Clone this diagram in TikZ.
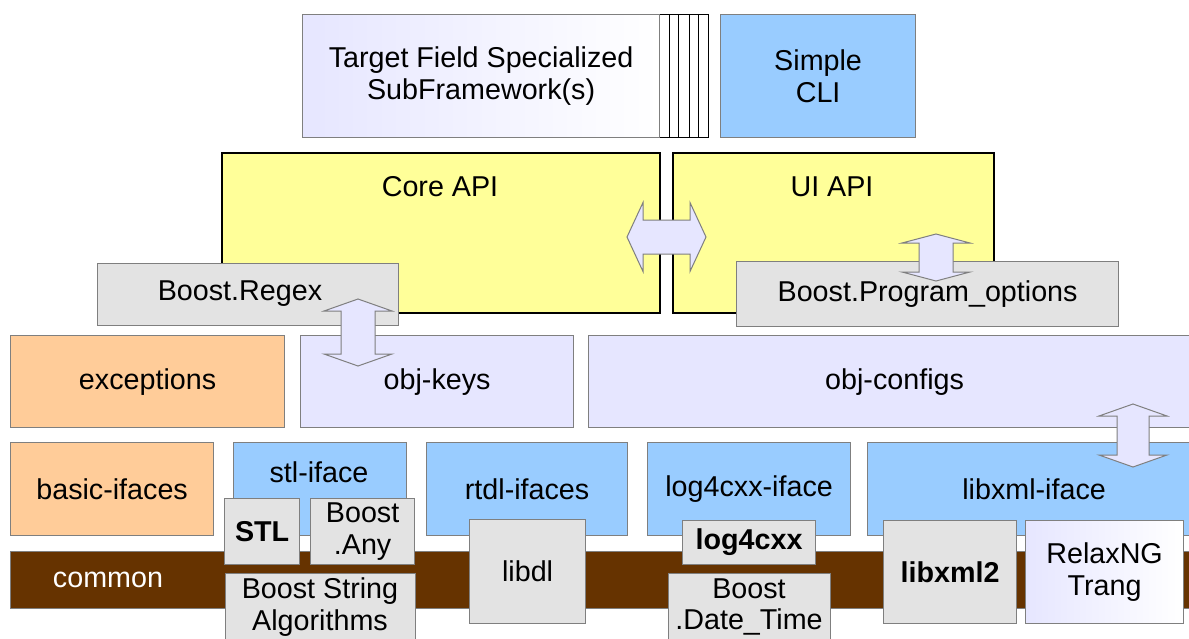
\documentclass[tikz,border=0pt]{standalone}
\usepackage{fontspec}
\setmainfont{Liberation Sans}
\definecolor{lav}{HTML}{E6E6FF}
\definecolor{sky}{HTML}{99CCFF}
\definecolor{yel}{HTML}{FFFF99}
\definecolor{lgray}{HTML}{E3E3E3}
\definecolor{peach}{HTML}{FFCC99}
\definecolor{dbrown}{HTML}{663300}
\definecolor{edge}{HTML}{7F7F7F}
\tikzset{
  base/.style={draw=edge, line width=1.2pt, inner sep=0pt, anchor=north west},
  txt/.style={font=\fontsize{28.7}{31.5}\selectfont, align=center, inner sep=0pt},
  lavbox/.style={base, fill=lav},
  skybox/.style={base, fill=sky},
  yelbox/.style={base, draw=black, line width=2pt, fill=yel},
  graybox/.style={base, fill=lgray},
  peachbox/.style={base, fill=peach},
  brownbox/.style={base, fill=dbrown},
  gradbox/.style={base, left color=lav, right color=white},
  stripbox/.style={draw=black, line width=0.8pt, fill=white},
  blockarrow/.style={draw=edge, line width=1pt, fill=lav, line join=miter},
}
% style, name, x1, y1, x2, y2, text
\newcommand{\blk}[7]{\node[#1, txt, minimum width={#5-#3}, minimum height={#6-#4}] (#2) at (#3,#4) {#7};}
% vertical double block arrow: cx, cy, half length, head length, head half width, shaft half width
\newcommand{\vdbl}[6]{\draw[blockarrow, shift={(#1,#2)}] (0,-#3) -- (#5,-#3+#4) -- (#6,-#3+#4) -- (#6,#3-#4) -- (#5,#3-#4) -- (0,#3) -- (-#5,#3-#4) -- (-#6,#3-#4) -- (-#6,-#3+#4) -- (-#5,-#3+#4) -- cycle;}
\newcommand{\hdbl}[6]{\draw[blockarrow, shift={(#1,#2)}] (-#3,0) -- (-#3+#4,#5) -- (-#3+#4,#6) -- (#3-#4,#6) -- (#3-#4,#5) -- (#3,0) -- (#3-#4,-#5) -- (#3-#4,-#6) -- (-#3+#4,-#6) -- (-#3+#4,-#5) -- cycle;}
\begin{document}
\begin{tikzpicture}[x=1pt,y=-1pt]
\useasboundingbox[fill=white] (0,0) rectangle (1189,638);
% top row
\draw[stripbox] (302,14) rectangle (708,137);
\draw[stripbox] (302,14) rectangle (698,137);
\draw[stripbox] (302,14) rectangle (689,137);
\draw[stripbox] (302,14) rectangle (678,137);
\draw[stripbox] (302,14) rectangle (669,137);
\blk{gradbox}{tfs}{302}{14}{659}{137}{Target Field Specialized\\SubFramework(s)}
\blk{skybox}{cli}{720}{14}{915}{137}{Simple\\CLI}
% API row
\blk{yelbox}{core}{221}{152}{659}{312}{}
\blk{yelbox}{ui}{672}{152}{993}{312}{}
\node[txt] (corelbl) at (440,187) {Core API};
\node[txt] (uilbl) at (832,187) {UI API};
\blk{graybox}{regex}{97}{263}{398}{325}{}
\node[txt] (regexlbl) at (240,294) {Boost.Regex};
\blk{graybox}{popt}{736}{261}{1118}{326}{Boost.Program\_options}
% object row
\blk{peachbox}{exc}{10}{335}{284}{427}{exceptions}
\blk{lavbox}{keys}{300}{335}{573}{427}{obj-keys}
\blk{lavbox}{configs}{588}{335}{1200}{427}{obj-configs}
% iface row
\blk{peachbox}{basic}{10}{442}{213}{535}{basic-ifaces}
\blk{skybox}{stl}{233}{442}{406}{535}{}
\node[txt] (stllbl) at (319,472) {stl-iface};
\blk{skybox}{rtdl}{426}{442}{627}{535}{rtdl-ifaces}
\blk{skybox}{log4i}{647}{442}{850}{535}{log4cxx-iface}
\blk{skybox}{xmli}{867}{442}{1200}{535}{libxml-iface}
% common band
\blk{brownbox}{common}{10}{551}{1200}{608}{}
\node[txt, text=white] (commonlbl) at (108,580) {common};
% libraries
\blk{graybox}{stlb}{224}{498}{299}{564}{\bfseries STL}
\blk{graybox}{any}{310}{498}{414}{564}{Boost\\.Any}
\blk{graybox}{bsa}{225}{573}{415}{660}{}
\node[txt] (bsalbl) at (320,607) {Boost String\\Algorithms};
\blk{graybox}{libdl}{469}{519}{585}{623}{libdl}
\blk{graybox}{log4}{682}{520}{815}{564}{\bfseries log4cxx}
\blk{graybox}{bdt}{668}{573}{830}{660}{}
\node[txt] (bdtlbl) at (749,607) {Boost\\.Date\_Time};
\blk{graybox}{xml2}{883}{520}{1016}{623}{\bfseries libxml2}
\blk{gradbox}{relax}{1025}{520}{1183}{623}{RelaxNG\\Trang}
% block arrows
\hdbl{666.5}{237}{39.5}{16}{34.5}{17}
\vdbl{936}{257.5}{23.5}{9}{34}{17}
\vdbl{358}{332.5}{33.5}{12}{34}{17}
\vdbl{1133}{435.5}{31.5}{12}{34}{16}
\end{tikzpicture}
\end{document}
